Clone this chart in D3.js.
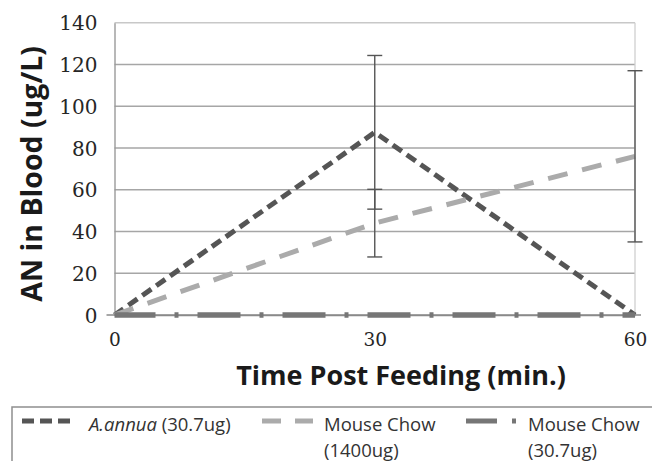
<!DOCTYPE html>
<html><head><meta charset="utf-8">
<script src="https://cdn.jsdelivr.net/npm/d3@7"></script>
<style>body{margin:0;background:#fff}svg{display:block}</style>
</head><body><svg id="c" width="652" height="461"></svg>
<script>
// ---- data ----
const times = [0, 30, 60];
const aannua = [0, 87.5, 0];
const aannuaErr = [null, 36.8, null];
const chow1400 = [0, 44, 76];
const chow1400Err = [null, 16.2, 41];
const chow307 = [0, 0, 0];
const yTicks = [0, 20, 40, 60, 80, 100, 120, 140];
const xTicks = [0, 30, 60];
const yTitle = "AN in Blood (ug/L)";
const xTitle = "Time Post Feeding (min.)";

const svg = d3.select("#c");
const x = d3.scaleLinear().domain([0, 60]).range([114.5, 635]);
const y = d3.scaleLinear().domain([0, 140]).range([315, 22.7]);

// gridlines
const grid = svg.append("g");
grid.selectAll("line").data(yTicks.filter(d => d > 0)).join("line")
  .attr("x1", x(0)).attr("x2", x(60))
  .attr("y1", d => y(d)).attr("y2", d => y(d))
  .attr("stroke", d => d === 140 ? "#c8c8c8" : "#a6a6a6").attr("stroke-width", 1.4);
// right border
svg.append("line").attr("x1", x(60)).attr("x2", x(60)).attr("y1", y(140)).attr("y2", y(0))
  .attr("stroke", "#cfcfcf").attr("stroke-width", 1.3);

// y axis
const yAxis = svg.append("g").attr("transform", `translate(${x(0)},0)`)
  .call(d3.axisLeft(y).tickValues(yTicks).tickSize(0).tickPadding(17));
yAxis.select(".domain").attr("stroke", "#9a9a9a").attr("stroke-width", 1.4);
yAxis.selectAll("text").attr("font-family", "DejaVu Serif").attr("font-size", 20)
  .attr("fill", "#262626").attr("dy", "0.36em");

// x axis
const xAxis = svg.append("g").attr("transform", `translate(0,${y(0)})`)
  .call(d3.axisBottom(x).tickValues(xTicks).tickSize(0).tickPadding(18));
xAxis.select(".domain").attr("stroke", "#8a8a8a").attr("stroke-width", 1.5);
xAxis.selectAll("text").attr("font-family", "DejaVu Serif").attr("font-size", 18.5).attr("fill", "#262626");
svg.append("line").attr("x1", x(0) - 8).attr("x2", x(60) + 6).attr("y1", y(0)).attr("y2", y(0))
  .attr("stroke", "#8a8a8a").attr("stroke-width", 1.5);

// lines
const line = d3.line().x((d, i) => x(times[i])).y(d => y(d));
function series(vals, color, width, dash, offset) {
  svg.append("path").datum(vals).attr("d", line).attr("fill", "none")
    .attr("stroke", color).attr("stroke-width", width)
    .attr("stroke-dasharray", dash).attr("stroke-dashoffset", offset || 0);
}
function errorBars(vals, errs) {
  const g = svg.append("g").attr("stroke", "#555").attr("stroke-width", 1.4);
  vals.forEach((v, i) => {
    if (errs[i] == null) return;
    const cx = x(times[i]);
    g.append("line").attr("x1", cx).attr("x2", cx).attr("y1", y(v + errs[i])).attr("y2", y(v - errs[i]));
    [v + errs[i], v - errs[i]].forEach(e => g.append("line")
      .attr("x1", cx - 7.5).attr("x2", cx + 7.5).attr("y1", y(e)).attr("y2", y(e)));
  });
}
series(aannua, "#555555", 5, "11,6");
errorBars(aannua, aannuaErr);
series(chow1400, "#ababab", 5, "20,15");
errorBars(chow1400, chow1400Err);
series(chow307, "#767676", 5.5, "43,19,4,19", 2);

// titles
svg.append("text").attr("transform", `translate(42,${(y(0) + y(140)) / 2 + 5}) rotate(-90)`)
  .attr("text-anchor", "middle").attr("font-family", "Open Sans").attr("font-weight", "bold")
  .attr("font-size", 28.5).attr("fill", "#1a1a1a").text(yTitle);
svg.append("text").attr("x", 401).attr("y", 385).attr("text-anchor", "middle")
  .attr("font-family", "Open Sans").attr("font-weight", "bold").attr("font-size", 27)
  .attr("fill", "#1a1a1a").text(xTitle);

// legend
const leg = svg.append("g");
leg.append("rect").attr("x", 12).attr("y", 407).attr("width", 660).attr("height", 80)
  .attr("fill", "#fff").attr("stroke", "#8f8f8f").attr("stroke-width", 1.5);
const ly = 421;
leg.append("line").attr("x1", 22).attr("x2", 71).attr("y1", ly).attr("y2", ly)
  .attr("stroke", "#555555").attr("stroke-width", 5).attr("stroke-dasharray", "12,6");
leg.append("line").attr("x1", 262).attr("x2", 313).attr("y1", ly).attr("y2", ly)
  .attr("stroke", "#ababab").attr("stroke-width", 5).attr("stroke-dasharray", "19,14");
leg.append("line").attr("x1", 466).attr("x2", 520).attr("y1", ly).attr("y2", ly)
  .attr("stroke", "#767676").attr("stroke-width", 5).attr("stroke-dasharray", "31,15,4,20");
const lt = (tx, ty) => leg.append("text").attr("x", tx).attr("y", ty)
  .attr("font-family", "Open Sans").attr("font-size", 18.5).attr("fill", "#333");
const t1 = lt(89, 431);
t1.append("tspan").attr("font-style", "italic").text("A.annua");
t1.append("tspan").text(" (30.7ug)");
lt(324, 431).text("Mouse Chow");
lt(324, 457).text("(1400ug)");
lt(528, 431).text("Mouse Chow");
lt(528, 457).text("(30.7ug)");
</script></body></html>
